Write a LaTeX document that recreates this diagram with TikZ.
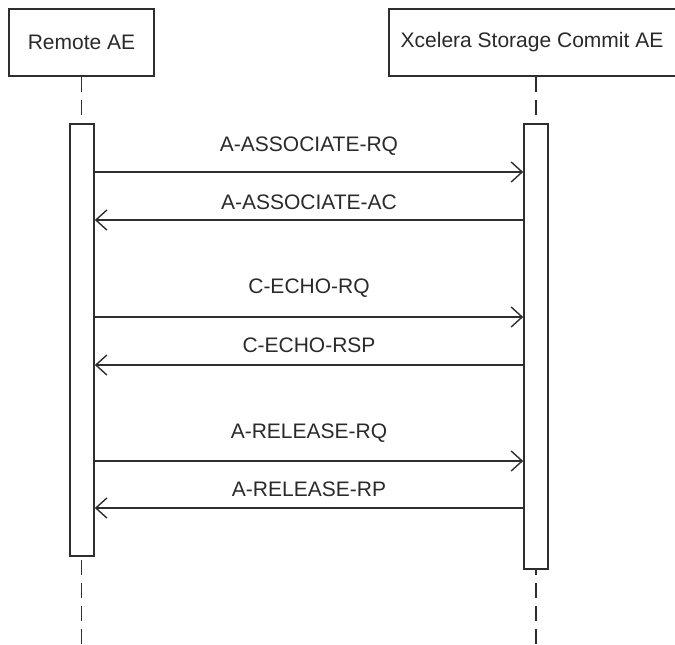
\documentclass[tikz,border=0pt]{standalone}
\usepackage{fontspec}
\setmainfont{Liberation Sans}
\usetikzlibrary{arrows.meta}
\definecolor{ink}{HTML}{2E2E2E}
\definecolor{txt}{HTML}{2A2A2A}
\begin{document}
\begin{tikzpicture}[x=1pt,y=-1pt,
  every node/.style={font=\fontsize{21}{25}\selectfont, text=txt, inner sep=0pt},
  actor/.style={draw=ink, line width=1.6pt, fill=white, minimum height=67pt},
  actbar/.style={draw=ink, line width=1.6pt, fill=white},
  life/.style={draw=ink, line width=1.7pt, dash pattern=on 15pt off 8pt},
  msg/.style={draw=ink, line width=1.6pt, -{Straight Barb[length=11pt,width=20pt,line width=1.4pt]}},
  lbl/.style={anchor=center}
]
\useasboundingbox (0,0) rectangle (675,645);
\clip (0,0) rectangle (675,645);
% actors
\node[actor, minimum width=145pt] (ra) at (81.5,42.5) {Remote AE};
\node[actor, minimum width=294pt] (xs) at (536,42.5) {};
\node (xst) at (532,42.5) {Xcelera Storage Commit AE};
% lifelines
\coordinate (lend) at (82,650);
\coordinate (rend) at (536,650);
\draw[life] (ra.south) -- (ra.south |- lend);
\draw[life] (xs.south) -- (xs.south |- rend);
% activation bars
\node[actbar, minimum width=24pt, minimum height=432pt] (barL) at (82,340) {};
\node[actbar, minimum width=24pt, minimum height=445pt] (barR) at (536,346.5) {};
% messages
\coordinate (m1) at (0,172);
\coordinate (m2) at (0,220);
\coordinate (m3) at (0,317);
\coordinate (m4) at (0,365);
\coordinate (m5) at (0,461);
\coordinate (m6) at (0,508);
\draw[msg] (barL.east |- m1) -- (barR.west |- m1);
\draw[msg] (barR.west |- m2) -- (barL.east |- m2);
\draw[msg] (barL.east |- m3) -- (barR.west |- m3);
\draw[msg] (barR.west |- m4) -- (barL.east |- m4);
\draw[msg] (barL.east |- m5) -- (barR.west |- m5);
\draw[msg] (barR.west |- m6) -- (barL.east |- m6);
% labels
\node[lbl] (l1) at (309,146) {A-ASSOCIATE-RQ};
\node[lbl] (l2) at (309,202) {A-ASSOCIATE-AC};
\node[lbl] (l3) at (309,288) {C-ECHO-RQ};
\node[lbl] (l4) at (309,345) {C-ECHO-RSP};
\node[lbl] (l5) at (309,433) {A-RELEASE-RQ};
\node[lbl] (l6) at (309,489) {A-RELEASE-RP};
\end{tikzpicture}
\end{document}
